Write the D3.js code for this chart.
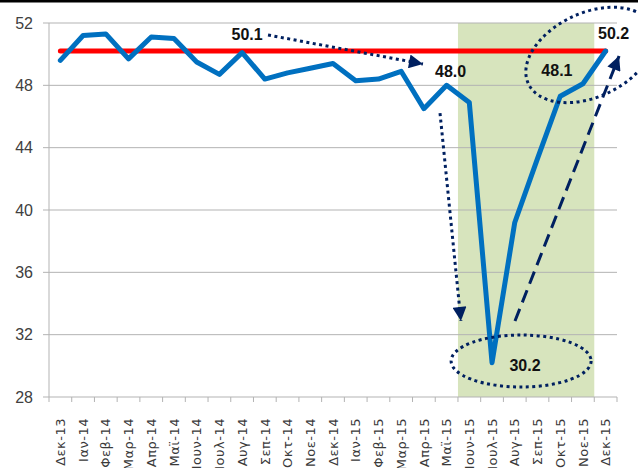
<!DOCTYPE html>
<html>
<head>
<meta charset="UTF-8">
<style type='text/css'>
  body { margin: 0; background: #fff; }
  svg { display: block; background: #fff; }
  .ylab { font-family: "Liberation Sans", sans-serif; font-size: 16px; fill: #404040; }
  .xlab { font-family: "DejaVu Sans", sans-serif; font-size: 13px; fill: #3a3a3a; letter-spacing: 0.5px; }
  .note { font-family: "Liberation Sans", sans-serif; font-size: 16px; font-weight: bold; fill: #111; }
</style>
</head>
<body>
<svg></svg>
<script src="https://d3js.org/d3.v7.min.js"></script>
<script>

let width = 638, height = 468;

// data
const months = ["Δεκ-13","Ιαν-14","Φεβ-14","Μαρ-14","Απρ-14","Μαϊ-14","Ιουν-14","Ιουλ-14","Αυγ-14",
  "Σεπ-14","Οκτ-14","Νοε-14","Δεκ-14","Ιαν-15","Φεβ-15","Μαρ-15","Απρ-15","Μαϊ-15","Ιουν-15",
  "Ιουλ-15","Αυγ-15","Σεπ-15","Οκτ-15","Νοε-15","Δεκ-15"];
const pmi = [49.6, 51.2, 51.3, 49.7, 51.1, 51.0, 49.5, 48.7, 50.1, 48.4, 48.8, 49.1, 49.4,
  48.3, 48.4, 48.9, 46.5, 48.0, 46.9, 30.2, 39.2, 43.3, 47.3, 48.1, 50.2];
const refLevel = 50.2;
const shadeFrom = "Ιουν-15", shadeTo = "Νοε-15";
const yTicks = [28, 32, 36, 40, 44, 48, 52];
// labelled points: month, dx, dy (px offset of the label)
const callouts = [["Αυγ-14", 5, -13], ["Μαϊ-15", 4, -8], ["Νοε-15", -26, -8], ["Δεκ-15", 8, -12], ["Ιουλ-15", 33, 8]];
// arrows in (month index, value) units
const dotArrows = [[[9.14, 51.23], [15.96, 49.37]], [[16.71, 46.22], [17.63, 32.88]]];
const dashArrows = [[[20.01, 32.88], [24.59, 49.88]]];
// ellipses: centre index, centre value, rx, ry, angle
const rings = [[20.28, 30.31, 70, 26, 0], [23.31, 49.95, 68, 42, -25]];

let svg = d3.select("svg").attr("width", width).attr("height", height);

let pLeft = 49, pRight = 617, pTop = 23, pBottom = 397;

let x = d3.scaleBand().domain(months).range([pLeft, pRight]);
let cx = m => x(m) + x.bandwidth() / 2;
let xi = d3.scaleLinear().domain([0, months.length - 1]).range([cx(months[0]), cx(months[months.length - 1])]);
let y = d3.scaleLinear().domain([28, 52]).range([pBottom, pTop]);

// top black rule
svg.append("rect").attr("x", 0).attr("y", 0).attr("width", width).attr("height", 2.5).attr("fill", "#000");

// shaded period
svg.append("rect")
  .attr("x", x(shadeFrom))
  .attr("y", y(52))
  .attr("width", x(shadeTo) + x.bandwidth() - x(shadeFrom))
  .attr("height", y(28) - y(52))
  .attr("fill", "#d7e4bd");

// gridlines
svg.append("g").selectAll("line").data(yTicks.slice(1)).enter().append("line")
  .attr("x1", pLeft).attr("x2", pRight)
  .attr("y1", d => y(d)).attr("y2", d => y(d))
  .attr("stroke", "#b3b3b3").attr("stroke-width", 1);

// y axis
svg.append("line").attr("x1", pLeft).attr("x2", pLeft).attr("y1", y(52)).attr("y2", y(28))
  .attr("stroke", "#b3b3b3");
svg.append("g").selectAll("line").data(yTicks).enter().append("line")
  .attr("x1", pLeft - 6).attr("x2", pLeft).attr("y1", d => y(d)).attr("y2", d => y(d))
  .attr("stroke", "#b3b3b3");
svg.append("g").selectAll("text").data(yTicks).enter().append("text")
  .attr("class", "ylab")
  .attr("x", 33).attr("y", d => y(d)).attr("dy", "0.36em")
  .attr("text-anchor", "end")
  .text(d => d);

// x axis
svg.append("line").attr("x1", pLeft).attr("x2", pRight).attr("y1", pBottom).attr("y2", pBottom)
  .attr("stroke", "#b3b3b3");
svg.append("g").selectAll("line").data(months.concat(["end"])).enter().append("line")
  .attr("x1", (d, i) => pLeft + i * x.bandwidth()).attr("x2", (d, i) => pLeft + i * x.bandwidth())
  .attr("y1", pBottom).attr("y2", pBottom + 5)
  .attr("stroke", "#b3b3b3");
svg.append("g").selectAll("text").data(months).enter().append("text")
  .attr("class", "xlab")
  .attr("transform", d => "translate(" + cx(d) + "," + (pBottom + 21) + ") rotate(-90)")
  .attr("dy", "0.36em")
  .attr("text-anchor", "end")
  .text(d => d);

// reference line
svg.append("line")
  .attr("x1", cx(months[0])).attr("x2", cx(months[months.length - 1]))
  .attr("y1", y(refLevel)).attr("y2", y(refLevel))
  .attr("stroke", "#ff0000").attr("stroke-width", 5).attr("stroke-linecap", "round");

// PMI line
let line = d3.line().x((d, i) => cx(months[i])).y(d => y(d));
svg.append("path")
  .attr("d", line(pmi))
  .attr("fill", "none")
  .attr("stroke", "#0070c0")
  .attr("stroke-width", 5)
  .attr("stroke-linejoin", "round")
  .attr("stroke-linecap", "round");

// annotations
let navy = "#002060";
svg.append("defs").append("marker")
  .attr("id", "head")
  .attr("markerUnits", "userSpaceOnUse")
  .attr("viewBox", "0 0 14 14")
  .attr("refX", 14).attr("refY", 7)
  .attr("markerWidth", 15).attr("markerHeight", 14)
  .attr("orient", "auto")
  .append("path").attr("d", "M0,0 L14,7 L0,14 Z").attr("fill", navy);

svg.append("g").selectAll("line").data(dotArrows).enter().append("line")
  .attr("x1", d => xi(d[0][0])).attr("y1", d => y(d[0][1]))
  .attr("x2", d => xi(d[1][0])).attr("y2", d => y(d[1][1]))
  .attr("stroke", navy).attr("stroke-width", 3)
  .attr("stroke-dasharray", "3,3.5")
  .attr("marker-end", "url(#head)");

svg.append("g").selectAll("line").data(dashArrows).enter().append("line")
  .attr("x1", d => xi(d[0][0])).attr("y1", d => y(d[0][1]))
  .attr("x2", d => xi(d[1][0])).attr("y2", d => y(d[1][1]))
  .attr("stroke", navy).attr("stroke-width", 3)
  .attr("stroke-dasharray", "13,7")
  .attr("marker-end", "url(#head)");

svg.append("g").selectAll("ellipse").data(rings).enter().append("ellipse")
  .attr("transform", d => "translate(" + xi(d[0]) + "," + y(d[1]) + ") rotate(" + d[4] + ")")
  .attr("rx", d => d[2]).attr("ry", d => d[3])
  .attr("fill", "none")
  .attr("stroke", navy).attr("stroke-width", 3)
  .attr("stroke-dasharray", "3,3.5");

svg.append("g").selectAll("text").data(callouts).enter().append("text")
  .attr("class", "note")
  .attr("x", d => cx(d[0]) + d[1])
  .attr("y", d => y(pmi[months.indexOf(d[0])]) + d[2])
  .attr("text-anchor", "middle")
  .text(d => pmi[months.indexOf(d[0])].toFixed(1));

</script>
</body>
</html>
